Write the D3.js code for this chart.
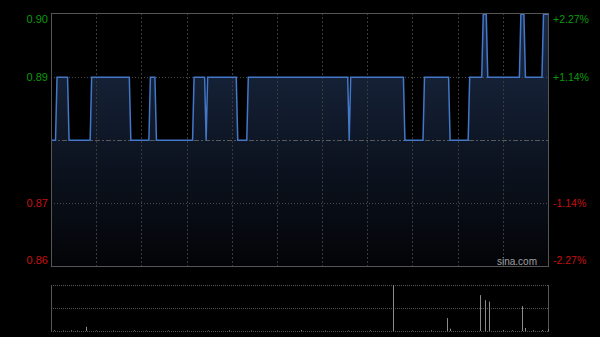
<!DOCTYPE html>
<html>
<head>
<meta charset="utf-8">
<script src="https://cdn.jsdelivr.net/npm/d3@7"></script>
<style>
  body { margin: 0; background: #000; }
  svg { display: block; }
</style>
</head>
<body>
<div id="chart"></div>
<script>
// price vertices: minutes since open and price at that minute
const minutes = [0, 3, 4, 11, 12, 26, 27, 52, 53, 65, 66, 69, 70, 94, 95, 102, 103, 104,
  123, 124, 130, 131, 197, 198, 199, 234, 235, 247, 248, 264, 265, 277, 278, 286, 287,
  289, 290, 311, 312, 314, 315, 326, 327, 330];
const prices = [0.88, 0.88, 0.89, 0.89, 0.88, 0.88, 0.89, 0.89, 0.88, 0.88, 0.89, 0.89, 0.88, 0.88, 0.89, 0.89, 0.88, 0.89,
  0.89, 0.88, 0.88, 0.89, 0.89, 0.88, 0.89, 0.89, 0.88, 0.88, 0.89, 0.89, 0.88, 0.88, 0.89, 0.89, 0.90,
  0.90, 0.89, 0.89, 0.90, 0.90, 0.89, 0.89, 0.90, 0.90];

// volume bars: minute and relative volume
const volMinutes = [2, 8, 13, 17, 23, 30, 41, 55, 63, 78, 90, 104, 118, 133, 150, 166, 182, 197,
  212, 227, 240, 252, 263, 265, 274, 285, 288, 291, 300, 306, 313, 315, 320, 326, 330];
const volumes = [1.5, 1, 1.5, 1, 9, 1, 1, 1.5, 1, 1, 1, 1, 1.5, 1, 1, 2, 1, 1,
  1.5, 100, 1, 1.5, 28, 5, 1, 78, 67, 64, 2, 1.5, 54, 6.5, 1.5, 2, 4];

const prevClose = 0.88;
const priceTicks = [0.90, 0.89, 0.87, 0.86];
const pctLabels = ["+2.27%", "+1.14%", "-1.14%", "-2.27%"];

const width = 600;
const height = 337;
const plotLeft = 51, plotRight = 548;
const plotTop = 13, plotBottom = 266;
const volTop = 285, volBottom = 331;

const svg = d3.select("#chart")
  .append("svg")
  .attr("width", width)
  .attr("height", height)
  .style("background", "#000");

const x = d3.scaleLinear().domain([0, 330]).range([plotLeft, plotRight]);
const y = d3.scaleLinear().domain([0.86, 0.90]).range([plotBottom, 14.3]);
const yVol = d3.scaleLinear().domain([0, 100]).range([volBottom, volTop]);

const defs = svg.append("defs");
const grad = defs.append("linearGradient")
  .attr("id", "fillGrad")
  .attr("gradientUnits", "userSpaceOnUse")
  .attr("x1", 0).attr("x2", 0)
  .attr("y1", y(0.90)).attr("y2", plotBottom);
grad.append("stop").attr("offset", "0%").attr("stop-color", "#1a2a45");
grad.append("stop").attr("offset", "100%").attr("stop-color", "#030407");

const points = minutes.map((m, i) => [m, prices[i]]);

// area under price line
svg.append("path")
  .datum(points)
  .attr("fill", "url(#fillGrad)")
  .attr("d", d3.area()
    .x(d => x(d[0]))
    .y0(plotBottom)
    .y1(d => y(d[1])));

// vertical grid every 30 min
const gridMins = d3.range(30, 330, 30);
svg.append("g")
  .selectAll("line")
  .data(gridMins)
  .join("line")
  .attr("x1", d => Math.round(x(d)) + 0.5)
  .attr("x2", d => Math.round(x(d)) + 0.5)
  .attr("y1", plotTop)
  .attr("y2", plotBottom)
  .attr("stroke", "#3a3a3a")
  .attr("stroke-dasharray", "2,2");

// horizontal grid
svg.append("g")
  .selectAll("line")
  .data([0.89, 0.87])
  .join("line")
  .attr("x1", plotLeft)
  .attr("x2", plotRight)
  .attr("y1", d => Math.round(y(d)) + 0.5)
  .attr("y2", d => Math.round(y(d)) + 0.5)
  .attr("stroke", "#4a4a4a")
  .attr("stroke-dasharray", "1,2");

// previous close line
svg.append("line")
  .attr("x1", plotLeft)
  .attr("x2", plotRight)
  .attr("y1", Math.round(y(prevClose)) + 0.5)
  .attr("y2", Math.round(y(prevClose)) + 0.5)
  .attr("stroke", "#5a5a5a")
  .attr("stroke-dasharray", "5,2,2,2");

// price line
svg.append("path")
  .datum(points)
  .attr("fill", "none")
  .attr("stroke", "#4377c8")
  .attr("stroke-width", 1.5)
  .attr("d", d3.line()
    .x(d => x(d[0]))
    .y(d => y(d[1])));

// frame
svg.append("rect")
  .attr("x", plotLeft + 0.5)
  .attr("y", plotTop + 0.5)
  .attr("width", plotRight - plotLeft)
  .attr("height", plotBottom - plotTop)
  .attr("fill", "none")
  .attr("stroke", "#555");

// left price labels
const labelY = v => {
  const py = y(v);
  if (v === 0.90) return py + 5;
  if (v === 0.86) return py - 6;
  return py;
};
svg.append("g")
  .selectAll("text")
  .data(priceTicks)
  .join("text")
  .attr("x", 48)
  .attr("y", d => labelY(d))
  .attr("dy", "0.36em")
  .attr("text-anchor", "end")
  .attr("font-family", "Liberation Sans, Arial, sans-serif")
  .attr("font-size", 11)
  .attr("fill", d => d > prevClose ? "#0a9a0a" : "#c41010")
  .text(d => d.toFixed(2));

// right percent labels
svg.append("g")
  .selectAll("text")
  .data(priceTicks)
  .join("text")
  .attr("x", 553)
  .attr("y", d => labelY(d))
  .attr("dy", "0.36em")
  .attr("font-family", "Liberation Sans, Arial, sans-serif")
  .attr("font-size", 10.5)
  .attr("fill", d => d > prevClose ? "#0a9a0a" : "#c41010")
  .text((d, i) => pctLabels[i]);

// watermark
svg.append("text")
  .attr("x", 537)
  .attr("y", 265)
  .attr("text-anchor", "end")
  .attr("font-family", "Liberation Sans, Arial, sans-serif")
  .attr("font-size", 10)
  .attr("fill", "#a0a0a0")
  .text("sina.com");

// volume panel grid
svg.append("g")
  .selectAll("line")
  .data([volTop, (volTop + volBottom) / 2, volBottom])
  .join("line")
  .attr("x1", plotLeft)
  .attr("x2", plotRight)
  .attr("y1", d => Math.round(d) + 0.5)
  .attr("y2", d => Math.round(d) + 0.5)
  .attr("stroke", "#555")
  .attr("stroke-dasharray", "1,1");

svg.append("g")
  .selectAll("line")
  .data([plotLeft, plotRight])
  .join("line")
  .attr("x1", d => d + 0.5)
  .attr("x2", d => d + 0.5)
  .attr("y1", volTop)
  .attr("y2", volBottom + 1)
  .attr("stroke", "#555");

// volume bars
svg.append("g")
  .selectAll("line")
  .data(volMinutes.map((m, i) => [m, volumes[i]]))
  .join("line")
  .attr("x1", d => Math.round(x(d[0])) + 0.5)
  .attr("x2", d => Math.round(x(d[0])) + 0.5)
  .attr("y1", volBottom)
  .attr("y2", d => yVol(d[1]))
  .attr("stroke", "#8a8a8a");
</script>
</body>
</html>
